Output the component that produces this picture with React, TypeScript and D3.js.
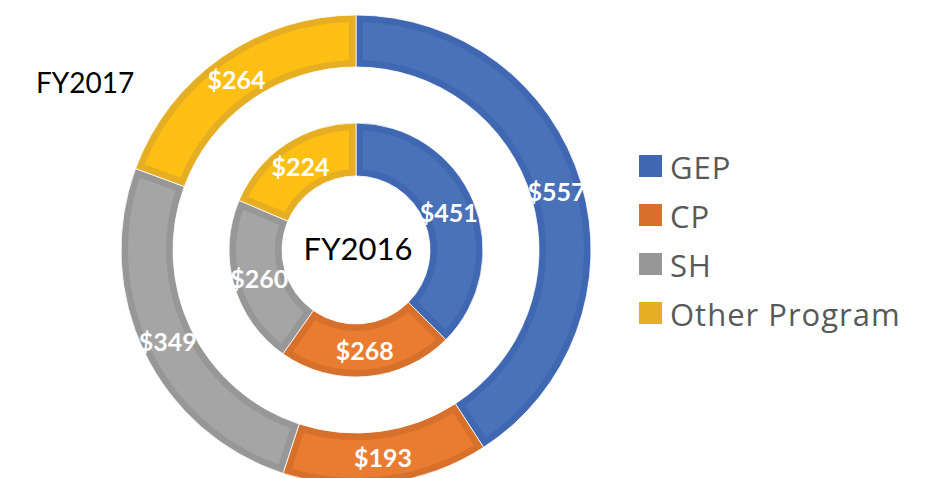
import React from "react";
import * as d3 from "d3";

const categories = ["GEP", "CP", "SH", "Other Program"];
const fy2016 = [451, 268, 260, 224];
const fy2017 = [557, 193, 349, 264];
const fillColors = ["#4a72b8", "#e97c30", "#a5a5a5", "#fdbf13"];
const borderColors = ["#3f67b2", "#d6702b", "#979797", "#e6ae22"];

const W = 947;
const H = 478;
const cx = 356;
const cy = 250;
const BORDER = 7;

function Ring({ values, r0, r1 }: { values: number[]; r0: number; r1: number }) {
  const pie = d3.pie<number>().sort(null).value((d) => d);
  const arcs = pie(values);
  const outer = d3.arc<d3.PieArcDatum<number>>().innerRadius(r0).outerRadius(r1);
  const inner = d3
    .arc<d3.PieArcDatum<number>>()
    .innerRadius(r0 + BORDER)
    .outerRadius(r1 - BORDER)
    .padRadius(100)
    .padAngle((2 * BORDER) / 100);
  const mid = d3.arc<d3.PieArcDatum<number>>().innerRadius(r0).outerRadius(r1);
  return (
    <g>
      {arcs.map((a, i) => (
        <g key={i}>
          <path d={outer(a) || ""} fill={borderColors[i]} stroke="#ffffff" strokeWidth={0.8} />
          <path d={inner(a) || ""} fill={fillColors[i]} />
        </g>
      ))}
      {arcs.map((a, i) => {
        const [x, y] = mid.centroid(a);
        return (
          <text
            key={"t" + i}
            x={x}
            y={y}
            textAnchor="middle"
            dominantBaseline="central"
            fill="#ffffff"
            fontFamily="Lato, 'Open Sans', sans-serif"
            fontWeight={700}
            fontSize={25}
          >
            {"$" + values[i]}
          </text>
        );
      })}
    </g>
  );
}

export default function App() {
  const legendY = d3.scalePoint<string>().domain(categories).range([166, 313]);
  return (
    <svg
      width={W}
      height={H}
      style={{ position: "absolute", left: 0, top: 0, background: "#ffffff" }}
    >
      <rect width={W} height={H} fill="#ffffff" />
      <g transform={`translate(${cx},${cy})`}>
        <Ring values={fy2017} r0={183} r1={235} />
        <Ring values={fy2016} r0={74} r1={127} />
        <text
          x={2}
          y={-2}
          textAnchor="middle"
          dominantBaseline="central"
          fill="#000000"
          fontFamily="Lato, sans-serif"
          fontSize={31}
        >
          FY2016
        </text>
      </g>
      <text x={36} y={82} dominantBaseline="central" fill="#000000" fontFamily="Lato, sans-serif" fontSize={28}>
        FY2017
      </text>
      {categories.map((c, i) => (
        <g key={c} transform={`translate(639,${legendY(c)})`}>
          <rect x={0} y={-11} width={23} height={22} fill={borderColors[i]} />
          <text
            x={31}
            y={1}
            dominantBaseline="central"
            fill="#595959"
            fontFamily="'Open Sans', sans-serif"
            fontSize={31}
            letterSpacing={1}
          >
            {c}
          </text>
        </g>
      ))}
    </svg>
  );
}
